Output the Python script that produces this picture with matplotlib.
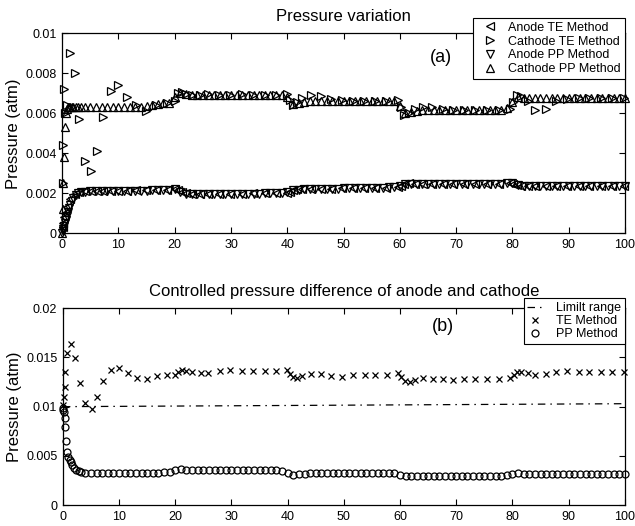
"""Pressure variation (a) and controlled pressure difference (b), TE vs PP method."""

import matplotlib

matplotlib.use("Agg")
import matplotlib.pyplot as plt
import numpy as np

plt.rcParams["font.family"] = ["Liberation Sans", "DejaVu Sans"]

# all pressure values below are in 1e-3 atm
# PP method sampling times (s)
T_PP = [0, 0.1, 0.2, 0.3, 0.45, 0.6, 0.8, 1.0, 1.2, 1.4, 1.7, 2.0, 2.4, 2.8, 3.3,
        4, 5, 6, 7, 8, 9,
        10, 11, 12, 13, 14, 15, 16, 17, 18, 19,
        20, 21, 22, 23, 24, 25, 26, 27, 28, 29,
        30, 31, 32, 33, 34, 35, 36, 37, 38, 39,
        40, 41, 42, 43, 44, 45, 46, 47, 48, 49,
        50, 51, 52, 53, 54, 55, 56, 57, 58, 59,
        60, 61, 62, 63, 64, 65, 66, 67, 68, 69,
        70, 71, 72, 73, 74, 75, 76, 77, 78, 79,
        80, 81, 82, 83, 84, 85, 86, 87, 88, 89,
        90, 91, 92, 93, 94, 95, 96, 97, 98, 99,
        100]

CATHODE_PP = [0.0, 1.2, 2.5, 3.8, 5.3, 6.0, 6.2, 6.3, 6.3, 6.3, 6.3, 6.3, 6.3, 6.3, 6.3,
              6.3, 6.3, 6.3, 6.3, 6.3, 6.3,
              6.3, 6.3, 6.3, 6.3, 6.32, 6.35, 6.4, 6.45, 6.5, 6.5,
              6.8, 7.0, 6.95, 6.9, 6.9, 6.9, 6.9, 6.9, 6.9, 6.9,
              6.9, 6.9, 6.9, 6.9, 6.9, 6.9, 6.9, 6.9, 6.9, 6.9,
              6.8, 6.45, 6.5, 6.55, 6.6, 6.6, 6.6, 6.6, 6.6, 6.6,
              6.6, 6.6, 6.6, 6.6, 6.6, 6.6, 6.6, 6.6, 6.6, 6.6,
              6.35, 6.0, 6.05, 6.1, 6.15, 6.15, 6.15, 6.15, 6.15, 6.15,
              6.15, 6.15, 6.15, 6.15, 6.15, 6.15, 6.15, 6.15, 6.15, 6.25,
              6.55, 6.8, 6.75, 6.75, 6.75, 6.75, 6.75, 6.75, 6.75, 6.75,
              6.75, 6.75, 6.75, 6.75, 6.75, 6.75, 6.75, 6.75, 6.75, 6.75,
              6.75]

ANODE_PP = [0.0, 0.1, 0.2, 0.35, 0.5, 0.65, 0.85, 1.05, 1.25, 1.4, 1.6, 1.75, 1.9, 2.0, 2.05,
            2.08, 2.1, 2.1, 2.1, 2.1, 2.1,
            2.1, 2.1, 2.1, 2.12, 2.12, 2.12, 2.15, 2.15, 2.15, 2.18,
            2.2, 2.05, 1.98, 1.97, 1.97, 1.97, 1.97, 1.97, 1.97, 1.97,
            1.97, 1.97, 1.98, 1.98, 1.98, 1.98, 2.0, 2.0, 2.0, 2.02,
            2.08, 2.15, 2.18, 2.2, 2.2, 2.2, 2.2, 2.22, 2.22, 2.22,
            2.25, 2.25, 2.25, 2.25, 2.27, 2.27, 2.27, 2.27, 2.3, 2.3,
            2.35, 2.45, 2.48, 2.48, 2.48, 2.48, 2.48, 2.48, 2.48, 2.48,
            2.48, 2.48, 2.48, 2.48, 2.48, 2.48, 2.48, 2.48, 2.48, 2.5,
            2.52, 2.42, 2.38, 2.37, 2.37, 2.37, 2.37, 2.37, 2.37, 2.37,
            2.37, 2.37, 2.37, 2.37, 2.37, 2.37, 2.37, 2.37, 2.37, 2.37,
            2.37]

DIFF_PP = [9.9, 9.7, 9.5, 8.8, 7.9, 6.5, 5.4, 4.9, 4.6, 4.4, 4.1, 3.8, 3.6, 3.45, 3.35,
           3.3, 3.3, 3.3, 3.3, 3.3, 3.3,
           3.3, 3.3, 3.3, 3.3, 3.3, 3.3, 3.3, 3.3, 3.35, 3.4,
           3.6, 3.7, 3.6, 3.55, 3.55, 3.55, 3.55, 3.55, 3.55, 3.55,
           3.55, 3.55, 3.55, 3.55, 3.55, 3.55, 3.55, 3.55, 3.55, 3.5,
           3.3, 3.1, 3.15, 3.2, 3.25, 3.25, 3.25, 3.25, 3.25, 3.25,
           3.25, 3.25, 3.25, 3.25, 3.25, 3.25, 3.25, 3.25, 3.25, 3.25,
           3.1, 2.9, 2.95, 3.0, 3.0, 3.0, 3.0, 3.0, 3.0, 3.0,
           3.0, 3.0, 3.0, 3.0, 3.0, 3.0, 3.0, 3.0, 3.0, 3.05,
           3.15, 3.25, 3.2, 3.2, 3.2, 3.2, 3.2, 3.2, 3.2, 3.2,
           3.2, 3.2, 3.2, 3.2, 3.2, 3.2, 3.2, 3.2, 3.2, 3.2,
           3.2]

# TE method sampling times (s)
T_TE = [0.1, 0.2, 0.3, 0.45, 0.8, 1.4, 2.2, 3.0, 4.0, 5.1, 6.1, 7.2, 8.6, 10.0,
        11.6, 13.2, 14.9, 16.7, 18.6,
        20.0, 20.5, 21.2, 22.0, 23.0, 24.5, 25.9, 27.9, 29.8, 31.9, 33.9, 36.0, 38.0, 39.9,
        40.4, 41.0, 41.7, 42.6, 44.2, 46.0, 47.8, 49.7, 51.6, 53.7, 55.6, 57.6, 59.7,
        60.2, 60.8, 61.7, 62.7, 64.1, 65.8, 67.6, 69.5, 71.4, 73.4, 75.5, 77.6, 79.6,
        80.2, 80.8, 81.6, 82.8, 84.1, 85.9, 87.7, 89.7, 91.8, 93.7, 95.7, 97.7, 99.8]

CATHODE_TE = [2.5, 4.4, 7.2, 6.0, 6.4, 9.0, 8.0, 5.7, 3.6, 3.1, 4.1, 5.8, 7.1, 7.4,
              6.8, 6.4, 6.1, 6.4, 6.5,
              6.6, 7.0, 7.05, 6.95, 6.9, 6.9, 6.95, 6.9, 6.9, 6.95, 6.9, 6.9, 6.9, 6.95,
              6.65, 6.4, 6.55, 6.75, 6.9, 6.85, 6.7, 6.65, 6.6, 6.6, 6.6, 6.6, 6.65,
              6.3, 5.9, 6.0, 6.2, 6.3, 6.3, 6.2, 6.15, 6.15, 6.15, 6.15, 6.15, 6.2,
              6.55, 6.9, 6.85, 6.6, 6.15, 6.2, 6.6, 6.7, 6.75, 6.75, 6.75, 6.75, 6.75]

ANODE_TE = [0.3, 0.5, 0.8, 1.0, 1.3, 1.7, 1.95, 2.05, 2.1, 2.1, 2.1, 2.1, 2.12, 2.12,
            2.12, 2.15, 2.15, 2.15, 2.18,
            2.22, 2.15, 2.05, 2.0, 1.98, 1.97, 1.97, 1.97, 1.98, 1.98, 2.0, 2.0, 2.0, 2.02,
            2.05, 2.15, 2.2, 2.2, 2.2, 2.22, 2.22, 2.25, 2.25, 2.25, 2.27, 2.27, 2.3,
            2.35, 2.45, 2.5, 2.48, 2.48, 2.48, 2.48, 2.48, 2.48, 2.48, 2.48, 2.48, 2.5,
            2.48, 2.4, 2.38, 2.37, 2.37, 2.37, 2.37, 2.37, 2.37, 2.37, 2.37, 2.37, 2.37]

DIFF_TE = [10.2, 11.0, 12.0, 13.5, 15.5, 16.4, 14.9, 12.4, 10.4, 9.8, 11.0, 12.6, 13.7, 13.9,
           13.4, 12.9, 12.8, 13.1, 13.2,
           13.2, 13.5, 13.7, 13.6, 13.5, 13.4, 13.4, 13.6, 13.7, 13.6, 13.6, 13.6, 13.6, 13.7,
           13.3, 13.0, 12.9, 13.1, 13.3, 13.3, 13.1, 13.0, 13.2, 13.2, 13.2, 13.2, 13.4,
           13.0, 12.6, 12.5, 12.7, 12.9, 12.8, 12.8, 12.7, 12.8, 12.8, 12.8, 12.8, 12.9,
           13.2, 13.5, 13.5, 13.4, 13.2, 13.3, 13.5, 13.6, 13.5, 13.5, 13.5, 13.5, 13.5]

LIMIT_T = [0, 100]
LIMIT_P = [10.0, 10.3]

X_TICKS = [0, 10, 20, 30, 40, 50, 60, 70, 80, 90, 100]
YA_TICKS = [0, 0.002, 0.004, 0.006, 0.008, 0.01]
YA_LABELS = ["0", "0.002", "0.004", "0.006", "0.008", "0.01"]
YB_TICKS = [0, 0.005, 0.01, 0.015, 0.02]
YB_LABELS = ["0", "0.005", "0.01", "0.015", "0.02"]


def matm(vals):
    return np.asarray(vals) * 1e-3


def style_axes(ax, yticks, ylabels, ymax):
    ax.set_xlim(0, 100)
    ax.set_ylim(0, ymax)
    ax.set_xticks(X_TICKS)
    ax.set_yticks(yticks)
    ax.set_yticklabels(ylabels)
    ax.tick_params(direction="in", top=True, right=True, length=4, width=0.8,
                   labelsize=9, pad=4)
    for s in ax.spines.values():
        s.set_linewidth(0.9)
    ax.set_ylabel("Pressure (atm)", fontsize=12)
    ax.yaxis.set_label_coords(-0.073, 0.5)


mk = dict(linestyle="none", markerfacecolor="none", markeredgecolor="k",
          markeredgewidth=0.9, clip_on=False)

fig = plt.figure(figsize=(6.35, 5.26), dpi=100)

# (a) pressure variation
ax1 = fig.add_axes([0.098, 0.5564, 0.886, 0.3803])
ax1.plot(T_TE, matm(ANODE_TE), marker="<", markersize=5.5, label="Anode TE Method", **mk)
ax1.plot(T_TE, matm(CATHODE_TE), marker=">", markersize=5.5, label="Cathode TE Method", **mk)
ax1.plot(T_PP, matm(ANODE_PP), marker="v", markersize=5.5, label="Anode PP Method", **mk)
ax1.plot(T_PP, matm(CATHODE_PP), marker="^", markersize=5.5, label="Cathode PP Method", **mk)
style_axes(ax1, YA_TICKS, YA_LABELS, 0.01)
ax1.set_title("Pressure variation", fontsize=12, pad=9)
ax1.text(67.4, 0.0088, "(a)", fontsize=13, ha="center", va="center")
leg1 = ax1.legend(loc="upper right", bbox_to_anchor=(0.984, 0.966),
                  bbox_transform=fig.transFigure, fontsize=9, frameon=True,
                  fancybox=False, framealpha=1, edgecolor="k", borderpad=0.3,
                  labelspacing=0.15, handlelength=2.0, handletextpad=0.5,
                  borderaxespad=0)
leg1.get_frame().set_linewidth(0.8)

# (b) controlled pressure difference
ax2 = fig.add_axes([0.099, 0.0399, 0.885, 0.374])
ax2.plot(LIMIT_T, matm(LIMIT_P), color="k", linewidth=0.9,
         linestyle=(0, (6, 4, 1.2, 4)), label="Limilt range")
ax2.plot(T_TE, matm(DIFF_TE), marker="x", markersize=3.8, label="TE Method", **mk)
ax2.plot(T_PP, matm(DIFF_PP), marker="o", markersize=5, label="PP Method", **mk)
style_axes(ax2, YB_TICKS, YB_LABELS, 0.02)
ax2.set_title("Controlled pressure difference of anode and cathode", fontsize=12, pad=9)
ax2.text(67.6, 0.0181, "(b)", fontsize=13, ha="center", va="center")
leg2 = ax2.legend(loc="upper right", bbox_to_anchor=(0.984, 0.433),
                  bbox_transform=fig.transFigure, fontsize=9, frameon=True,
                  fancybox=False, framealpha=1, edgecolor="k", borderpad=0.3,
                  labelspacing=0.1, handlelength=1.3, handletextpad=1.0,
                  borderaxespad=0)
leg2.get_frame().set_linewidth(0.8)

fig.savefig("out.png", dpi=100)
